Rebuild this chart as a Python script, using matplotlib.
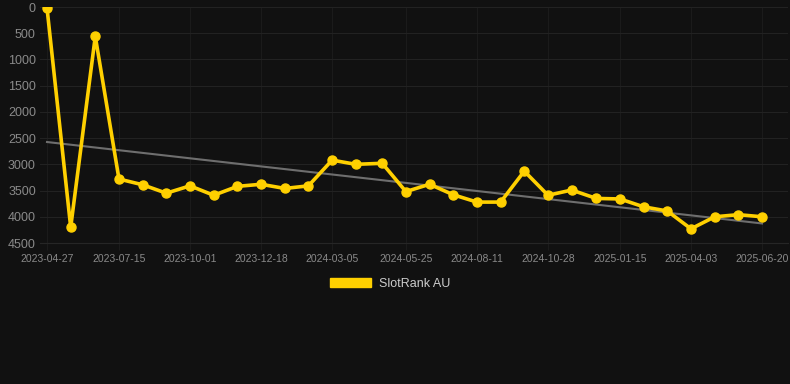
from matplotlib import pyplot as plt
from matplotlib.patches import Patch
import matplotlib.dates as mdates
import numpy as np
import pandas as pd


# Rank samples (lower is better, axis is inverted)
dates = [
    "2023-04-27", "2023-05-23", "2023-06-19", "2023-07-15", "2023-08-10",
    "2023-09-05", "2023-10-01", "2023-10-27", "2023-11-22", "2023-12-18",
    "2024-01-13", "2024-02-08", "2024-03-05", "2024-03-31", "2024-04-29",
    "2024-05-25", "2024-06-20", "2024-07-16", "2024-08-11", "2024-09-06",
    "2024-10-02", "2024-10-28", "2024-11-23", "2024-12-20", "2025-01-15",
    "2025-02-10", "2025-03-08", "2025-04-03", "2025-04-29", "2025-05-25",
    "2025-06-20",
]
ranks = [
    20, 4200, 560, 3280, 3390,
    3550, 3410, 3590, 3420, 3380,
    3460, 3410, 2920, 3000, 2980,
    3520, 3380, 3580, 3720, 3720,
    3130, 3590, 3490, 3650, 3660,
    3810, 3890, 4230, 4000, 3960,
    4000,
]
tick_labels = [
    "2023-04-27", "2023-07-15", "2023-10-01", "2023-12-18", "2024-03-05",
    "2024-05-25", "2024-08-11", "2024-10-28", "2025-01-15", "2025-04-03",
    "2025-06-20",
]
y_ticks = [0, 500, 1000, 1500, 2000, 2500, 3000, 3500, 4000, 4500]
series_name = "SlotRank AU"

bg = "#111111"
gold = "#FFD000"
label_col = "#8a8a8a"

plt.rcParams["font.family"] = ["Liberation Sans", "DejaVu Sans"]

x = pd.to_datetime(dates)
xn = mdates.date2num(x)

fig = plt.figure(figsize=(7.9, 3.84), dpi=100, facecolor=bg)
ax = fig.add_axes([40 / 790, 1 - 243 / 384, 748 / 790, 236 / 384])
ax.set_facecolor(bg)

# linear trend line
k, b = np.polyfit(xn, ranks, 1)
ax.plot(x, k * xn + b, color="#6e6e6e", linewidth=1.5, zorder=2)

ax.plot(x, ranks, color=gold, linewidth=2.6, marker="o", markersize=6.5,
        solid_joinstyle="miter", zorder=3)

ax.set_ylim(4500, 0)
ax.set_yticks(y_ticks)
ax.set_xticks(pd.to_datetime(tick_labels))
ax.set_xticklabels(tick_labels)
ax.set_xlim(xn[0] - 7.7, xn[-1] + 28.5)

ax.grid(True, axis="y", color="#222222", linewidth=0.8)
ax.grid(True, axis="x", color="#1b1b1b", linewidth=0.8)
for s in ax.spines.values():
    s.set_visible(False)
ax.spines["bottom"].set_visible(True)
ax.spines["bottom"].set_color("#262626")
ax.tick_params(axis="y", colors=label_col, labelsize=9, length=0, pad=3)
ax.tick_params(axis="x", colors="#1b1b1b", labelcolor=label_col, labelsize=7.5,
               length=5, pad=3)

fig.legend(handles=[Patch(facecolor=gold, edgecolor=gold, label=series_name)],
           loc="center", bbox_to_anchor=(0.494, 1 - 284 / 384), frameon=False,
           fontsize=9, labelcolor="#cccccc", handlelength=3.3,
           handleheight=0.7, handletextpad=0.6)

plt.savefig("out.png", facecolor=bg)
